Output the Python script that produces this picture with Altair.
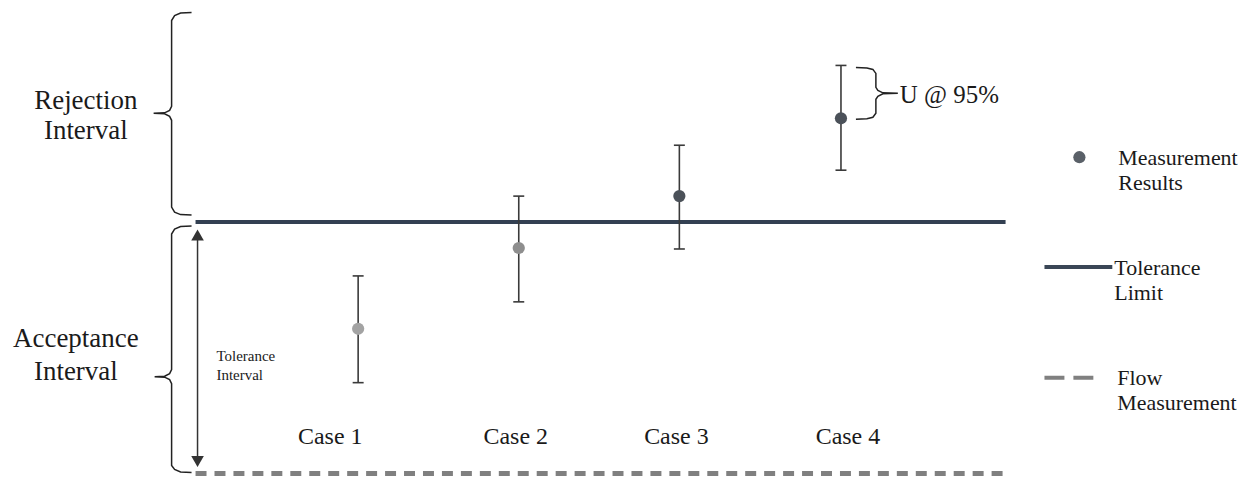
import altair as alt
import pandas as pd

# ---- data (page-pixel coordinates) ----
case_labels = ["Case 1", "Case 2", "Case 3", "Case 4"]
case_x = [359, 520, 681, 843]
case_value = [329, 248, 196, 118]
case_lo = [383, 302, 249, 170]
case_hi = [276, 196, 145, 65]
case_color = ["#a3a3a3", "#8e8e8e", "#4b5159", "#4b5159"]
case_label_x = [331, 517, 678, 850]
case_label_y = 437

tol_limit_y = 222
flow_y = 474
line_x = [196, 1008]

# braces (x, y) paths
brace_rej_x = [192, 181, 175, 172, 172, 170, 165, 154, 165, 170, 172, 172, 175, 181, 192]
brace_rej_y = [12, 12.5, 15, 20, 106, 110, 112.5, 113, 113.5, 116, 120, 207, 212, 214.5, 215]
brace_acc_x = [192, 181, 175, 172, 172, 170, 165, 155, 165, 170, 172, 172, 175, 181, 192]
brace_acc_y = [226, 226.5, 229, 234, 370, 374, 376.5, 377, 377.5, 380, 384, 466, 470, 472.5, 473]
brace_u_x = [858, 869, 875, 878, 878, 880, 885, 900, 885, 880, 878, 878, 875, 869, 858]
brace_u_y = [67, 67.5, 69, 73, 87, 90, 92.5, 93, 93.5, 96, 99, 113, 117, 118.5, 119]

arrow_x = 198
arrow_top = 228
arrow_bottom = 469

legend_dot = (1082, 157)
legend_line_x = [1047, 1115]
legend_line_y = 267
legend_dash_x = [1047, 1101]
legend_dash_y = 378

center_texts = [
    ("Rejection", 86, 101, 27), ("Interval", 86, 131, 27),
    ("Acceptance", 76, 339, 27), ("Interval", 76, 372, 27),
] + [(t, x, case_label_y, 24) for t, x in zip(case_labels, case_label_x)]
left_texts = [
    ("Tolerance", 217, 356, 15), ("Interval", 217, 375, 15),
    ("U @ 95%", 902, 95, 25),
    ("Measurement", 1121, 158, 22), ("Results", 1121, 183, 22),
    ("Tolerance", 1117, 268, 22), ("Limit", 1117, 293, 22),
    ("Flow", 1120, 378, 22), ("Measurement", 1120, 403, 22),
]

# ---- scales ----
XS = alt.Scale(domain=[8, 1238])
YS = alt.Scale(domain=[476, 8])
FONT = "Liberation Serif"


def X(f="x"):
    return alt.X(f"{f}:Q", scale=XS, axis=None)


def Y(f="y"):
    return alt.Y(f"{f}:Q", scale=YS, axis=None)


layers = []

# tolerance limit line
tl = pd.DataFrame({"x": [line_x[0]], "x2": [line_x[1]], "y": [tol_limit_y]})
layers.append(alt.Chart(tl).mark_rule(color="#334052", strokeWidth=4).encode(
    x=X(), x2="x2:Q", y=Y()))

# flow measurement dashed line
fl = pd.DataFrame({"x": [line_x[0]], "x2": [line_x[1]], "y": [flow_y]})
layers.append(alt.Chart(fl).mark_rule(color="#808080", strokeWidth=5, strokeDash=[11, 8]).encode(
    x=X(), x2="x2:Q", y=Y()))

# error bars
eb = pd.DataFrame({"x": case_x, "lo": case_lo, "hi": case_hi, "v": case_value, "c": case_color})
layers.append(alt.Chart(eb).mark_rule(color="#3a3a3a", strokeWidth=1.6).encode(
    x=X(), y=Y("lo"), y2="hi:Q"))
for f in ["lo", "hi"]:
    layers.append(alt.Chart(eb).transform_calculate(xa="datum.x - 5.5", xb="datum.x + 5.5").mark_rule(
        color="#3a3a3a", strokeWidth=1.6).encode(x=X("xa"), x2="xb:Q", y=Y(f)))
layers.append(alt.Chart(eb).mark_circle(size=150, opacity=1).encode(
    x=X(), y=Y("v"), color=alt.Color("c:N", scale=None)))

# braces
br = pd.concat([
    pd.DataFrame({"x": brace_rej_x, "y": brace_rej_y, "g": "rej"}),
    pd.DataFrame({"x": brace_acc_x, "y": brace_acc_y, "g": "acc"}),
    pd.DataFrame({"x": brace_u_x, "y": brace_u_y, "g": "u"}),
])
br["o"] = br.groupby("g").cumcount()
layers.append(alt.Chart(br).mark_line(color="#222222", strokeWidth=1.5).encode(
    x=X(), y=Y(), detail="g:N", order="o:Q"))

# double arrow
ar = pd.DataFrame({"x": [arrow_x], "y": [arrow_top + 10], "y2": [arrow_bottom - 10]})
layers.append(alt.Chart(ar).mark_rule(color="#333333", strokeWidth=1.5).encode(
    x=X(), y=Y(), y2="y2:Q"))
ah = pd.DataFrame({"x": [arrow_x, arrow_x], "y": [arrow_top + 7, arrow_bottom - 7],
                   "s": ["triangle-up", "triangle-down"]})
layers.append(alt.Chart(ah).mark_point(filled=True, size=160, color="#333333", opacity=1).encode(
    x=X(), y=Y(), shape=alt.Shape("s:N", scale=None)))

# legend symbols
ld = pd.DataFrame({"x": [legend_dot[0]], "y": [legend_dot[1]]})
layers.append(alt.Chart(ld).mark_circle(size=150, color="#5a6068", opacity=1).encode(x=X(), y=Y()))
ll = pd.DataFrame({"x": [legend_line_x[0]], "x2": [legend_line_x[1]], "y": [legend_line_y]})
layers.append(alt.Chart(ll).mark_rule(color="#3a4656", strokeWidth=4).encode(x=X(), x2="x2:Q", y=Y()))
ldash = pd.DataFrame({"x": [legend_dash_x[0]], "x2": [legend_dash_x[1]], "y": [legend_dash_y]})
layers.append(alt.Chart(ldash).mark_rule(color="#808080", strokeWidth=4, strokeDash=[20, 9]).encode(
    x=X(), x2="x2:Q", y=Y()))

# texts
ct = pd.DataFrame(center_texts, columns=["t", "x", "y", "s"])
layers.append(alt.Chart(ct).mark_text(font=FONT, align="center", baseline="middle", color="#1a1a1a").encode(
    x=X(), y=Y(), text="t:N", size=alt.Size("s:Q", scale=None)))
lt = pd.DataFrame(left_texts, columns=["t", "x", "y", "s"])
layers.append(alt.Chart(lt).mark_text(font=FONT, align="left", baseline="middle", color="#1a1a1a").encode(
    x=X(), y=Y(), text="t:N", size=alt.Size("s:Q", scale=None)))

chart = alt.layer(*layers).properties(
    width=1230, height=468, padding=0, background="white"
).configure_view(stroke=None)

chart.save("out.html", embed_options={"renderer": "svg", "actions": False})
